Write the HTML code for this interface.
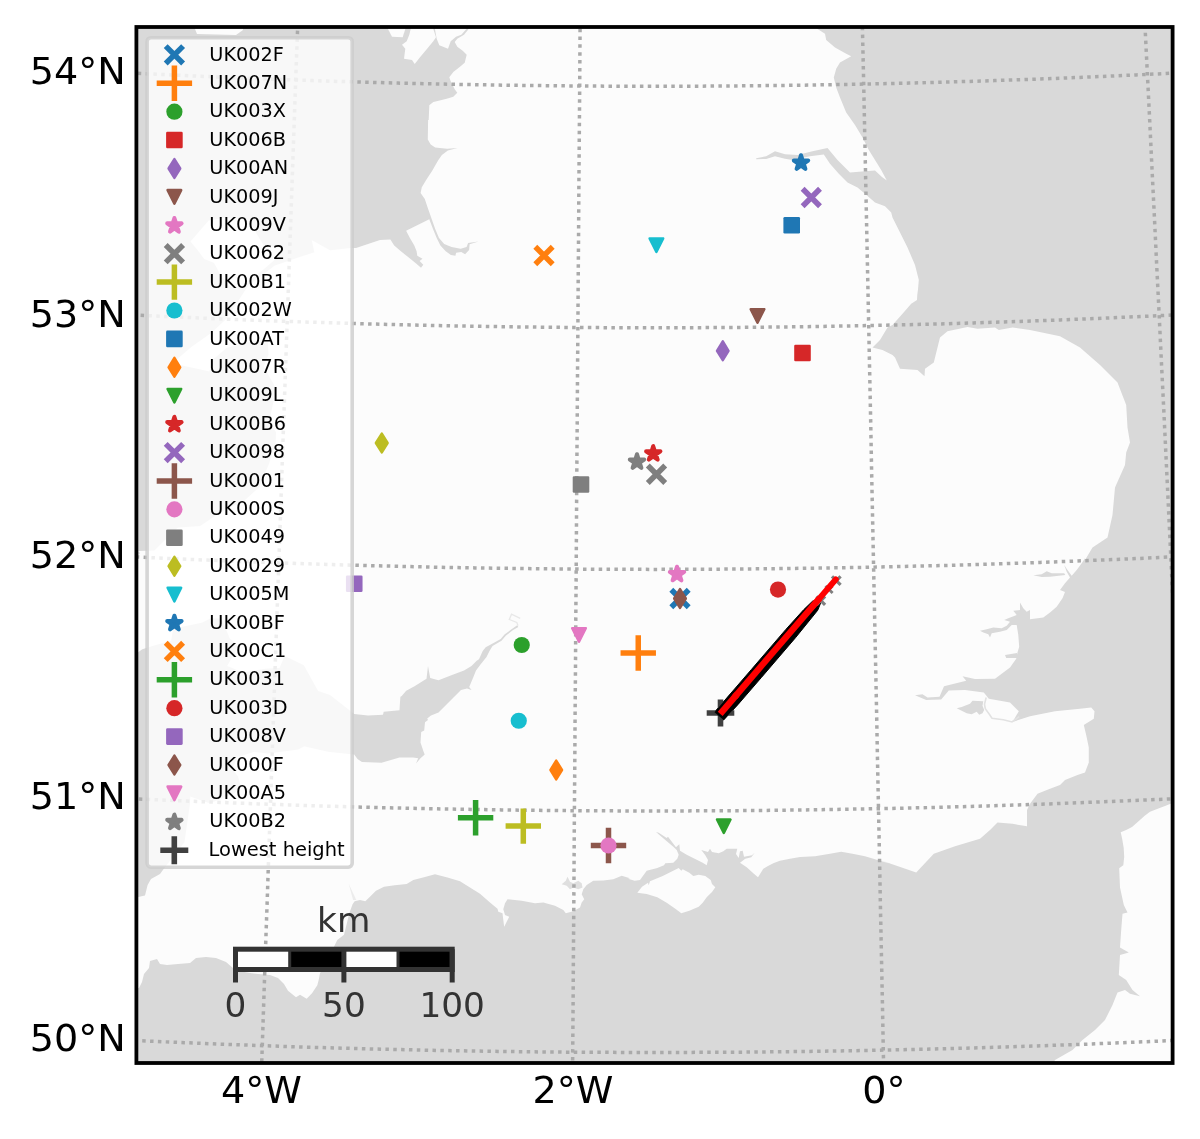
<!DOCTYPE html>
<html><head><meta charset="utf-8"><title>Map</title>
<style>html,body{margin:0;padding:0;background:#fff}svg text{white-space:pre}</style></head>
<body>
<svg width="1200" height="1139" viewBox="0 0 1200 1139" style="display:block">
<defs><clipPath id="ax"><rect x="136.4" y="27.0" width="1036.2" height="1036.0"/></clipPath></defs>
<rect x="0" y="0" width="1200" height="1139" fill="#ffffff"/>
<g clip-path="url(#ax)">
<rect x="136.4" y="27.0" width="1036.2" height="1036.0" fill="#d9d9d9"/>
<path d="M195.0,15.0 L195.0,29.0 L197.0,34.0 L236.0,35.0 L243.0,30.0 L243.0,15.0Z" fill="#fcfcfc"/>
<path d="M388.0,20.0 L388.0,29.1 L392.0,36.7 L402.7,37.3 L405.3,29.1 L405.3,20.0Z" fill="#fcfcfc"/>
<path d="M410.7,20.0 L410.7,29.1 L409.3,34.7 L406.7,41.3 L402.0,44.7 L405.3,48.7 L404.0,58.7 L412.0,60.0 L414.7,64.0 L420.0,57.3 L426.7,49.3 L433.3,41.3 L436.0,37.3 L433.3,29.1 L433.3,20.0Z" fill="#fcfcfc"/>
<path d="M434.9,20.0 L434.9,29.1 L436.7,38.7 L439.3,45.3 L448.0,48.7 L450.7,41.3 L456.0,36.7 L461.3,34.7 L466.4,29.1 L466.4,20.0Z" fill="#fcfcfc"/>
<path d="M468.3,20.0 L468.3,29.6 L464.0,34.7 L457.3,38.7 L454.7,42.0 L457.3,46.7 L462.7,50.7 L466.7,54.7 L464.7,62.7 L460.0,66.7 L453.3,72.0 L449.3,77.3 L450.7,81.3 L454.7,89.3 L457.3,92.7 L453.3,96.7 L446.7,98.7 L438.7,100.7 L433.3,102.0 L429.3,105.3 L428.7,120.0 L428.1,120.0 L427.8,139.4 L430.7,144.6 L435.2,147.6 L447.2,148.7 L457.6,147.9 L447.9,150.6 L441.9,155.1 L438.2,160.3 L432.2,170.7 L426.3,179.7 L421.8,187.2 L420.6,193.1 L424.8,199.1 L427.8,208.1 L431.5,218.5 L435.2,229.0 L439.0,237.9 L444.2,243.9 L451.6,246.9 L460.6,248.7 L466.6,246.9 L468.1,243.1 L478.5,241.6 L469.6,244.2 L469.1,249.9 L465.1,254.3 L461.3,252.1 L456.1,252.8 L455.4,255.8 L450.9,255.1 L445.7,251.3 L440.4,245.4 L436.7,237.9 L433.0,229.0 L429.3,219.3 L406.1,230.7 L409.9,237.9 L414.3,245.4 L416.6,251.3 L417.3,255.8 L422.5,258.8 L419.6,261.0 L423.3,264.8 L421.0,267.8 L415.8,263.3 L408.4,257.3 L400.9,251.3 L394.2,245.4 L390.4,239.4 L380.0,240.1 L353.8,248.8 L363.5,246.4 L330.1,250.3 L311.7,240.1 L314.2,252.2 L301.0,256.6 L274.7,265.4 L247.9,286.1 L238.6,300.3 L226.2,319.1 L211.1,333.0 L191.5,346.7 L170.3,365.1 L181.9,365.6 L209.4,371.6 L212.9,359.7 L226.5,348.1 L253.0,340.7 L267.6,340.0 L268.5,354.6 L263.7,366.5 L276.1,388.7 L269.0,422.3 L276.0,432.2 L275.5,444.3 L269.0,463.4 L259.2,487.2 L242.4,502.3 L227.4,507.8 L200.0,526.0 L177.7,527.4 L154.3,550.6 L137.9,551.0 L140.0,553.0 L136.0,558.0 L100.0,558.0 L100.0,646.0 L138.0,646.0 L136.1,653.7 L142.3,649.2 L156.0,645.0 L171.2,640.8 L173.2,628.8 L201.9,622.8 L211.0,618.3 L221.5,618.7 L229.7,638.4 L238.4,646.0 L227.1,666.1 L243.4,672.8 L252.5,670.7 L266.1,668.8 L279.6,668.0 L284.6,656.1 L303.8,665.2 L318.0,691.0 L329.9,695.0 L354.2,714.0 L368.0,715.5 L383.0,714.7 L383.7,711.7 L399.5,710.2 L399.9,703.5 L400.4,696.7 L401.7,696.0 L406.2,690.7 L414.5,686.2 L426.5,678.7 L428.0,666.0 L430.2,678.0 L438.5,680.2 L452.0,675.0 L464.0,670.5 L471.5,666.0 L476.7,660.7 L479.0,659.2 L482.7,651.0 L485.7,647.2 L494.0,642.7 L500.7,639.0 L504.5,634.5 L510.5,630.0 L517.2,625.2 L518.3,627.0 L512.7,630.3 L506.0,635.5 L501.5,640.8 L492.5,646.0 L489.5,651.0 L486.5,657.0 L480.5,664.5 L476.0,670.5 L473.0,678.0 L469.2,687.0 L471.5,690.0 L467.0,688.5 L461.0,690.0 L455.0,696.0 L447.5,703.5 L438.5,712.5 L431.0,715.5 L427.2,718.5 L428.0,720.0 L425.0,722.2 L424.2,730.5 L421.2,732.0 L420.5,742.5 L423.5,751.5 L424.7,754.5 L420.5,758.2 L416.0,763.5 L418.2,758.2 L413.0,757.5 L399.5,757.5 L381.5,762.7 L362.0,762.0 L357.5,759.0 L354.2,754.5 L328.3,751.8 L304.2,746.2 L298.1,749.6 L267.7,753.4 L254.1,751.8 L237.2,757.2 L232.2,769.1 L238.0,776.5 L240.7,786.3 L234.4,793.3 L209.7,803.2 L190.2,796.4 L189.9,803.6 L184.5,842.1 L164.0,868.4 L160.0,874.0 L151.0,879.0 L147.6,885.0 L145.0,895.6 L136.0,897.6 L100.0,898.0 L100.0,990.0 L139.0,988.0 L142.0,982.0 L144.0,974.0 L149.0,968.0 L150.0,961.0 L157.0,959.0 L160.0,964.0 L167.0,965.0 L178.0,964.0 L190.0,963.0 L196.0,958.0 L206.0,957.0 L216.0,958.0 L226.0,962.0 L233.0,968.0 L242.0,971.6 L250.0,973.0 L258.0,974.0 L270.0,975.0 L278.0,978.0 L280.0,980.0 L284.0,984.0 L288.0,990.7 L296.0,997.3 L300.0,994.7 L306.7,998.7 L312.0,993.3 L317.3,985.3 L318.7,980.0 L320.0,973.3 L327.0,960.0 L334.0,946.7 L337.3,940.0 L344.0,934.7 L346.7,924.0 L349.3,913.3 L352.7,904.0 L354.7,901.3 L360.0,900.0 L365.3,901.3 L370.7,896.0 L376.0,890.7 L384.0,886.7 L394.7,885.3 L406.7,884.0 L413.3,880.0 L424.0,877.3 L435.0,874.2 L447.5,877.5 L460.0,881.2 L470.0,887.5 L480.0,893.8 L490.0,902.5 L497.5,908.8 L498.3,911.7 L502.5,913.3 L503.3,920.0 L504.2,926.7 L506.7,921.7 L509.2,916.7 L505.0,915.0 L503.3,909.2 L505.0,903.3 L507.5,899.2 L521.7,900.8 L535.0,903.3 L543.3,902.5 L555.0,905.8 L563.3,910.0 L565.8,913.3 L573.3,911.3 L580.0,907.5 L581.7,902.5 L584.2,899.2 L581.7,894.2 L583.3,889.2 L586.7,885.0 L593.3,880.8 L603.3,880.5 L613.3,879.2 L621.7,875.8 L630.0,878.3 L628.0,878.7 L634.7,880.7 L640.0,880.0 L646.7,870.7 L657.3,868.0 L664.0,865.3 L665.3,863.3 L673.3,862.7 L677.3,858.7 L678.7,854.7 L676.7,850.0 L673.3,846.7 L665.3,840.0 L656.0,832.0 L658.7,832.7 L666.7,838.0 L668.0,836.7 L672.0,842.0 L676.0,847.3 L679.3,844.3 L680.0,850.7 L686.7,854.7 L694.7,858.7 L702.7,862.7 L706.7,865.3 L708.0,860.0 L705.3,855.3 L701.3,850.0 L708.0,852.0 L710.0,848.7 L712.0,852.0 L718.7,853.3 L723.3,851.3 L726.7,848.7 L737.3,848.7 L736.0,854.0 L738.7,858.0 L740.0,851.3 L742.7,850.7 L744.0,856.7 L752.0,855.3 L754.7,852.7 L751.3,857.3 L745.3,858.7 L740.0,862.7 L746.7,867.3 L753.3,873.3 L758.0,877.3 L761.3,872.0 L763.3,868.7 L768.0,866.0 L773.3,863.3 L779.9,860.7 L790.0,858.8 L800.0,857.0 L815.0,856.2 L830.0,853.8 L841.2,851.8 L852.5,853.8 L865.0,856.2 L877.5,860.0 L890.0,863.8 L899.8,867.5 L880.0,860.0 L916.2,872.5 L933.8,853.8 L955.0,846.2 L980.0,838.8 L990.0,830.0 L997.5,822.5 L1012.5,823.8 L1027.0,826.2 L1027.0,810.0 L1030.0,803.8 L1037.5,793.8 L1050.0,788.8 L1060.0,785.0 L1065.0,780.0 L1077.5,775.0 L1085.0,772.5 L1088.8,762.5 L1088.8,747.5 L1086.2,735.0 L1083.8,725.0 L1093.8,718.8 L1094.5,711.2 L1091.2,707.5 L1080.0,708.8 L1055.0,711.2 L1030.0,716.2 L1012.5,722.0 L1018.8,711.2 L1010.0,702.5 L988.8,698.8 L983.8,692.5 L965.0,690.0 L948.8,690.5 L941.2,699.5 L926.2,700.0 L915.0,695.2 L922.5,694.2 L927.5,697.5 L939.5,696.8 L944.0,686.2 L966.2,680.8 L962.5,676.2 L975.0,679.0 L995.0,678.8 L1010.0,667.5 L1016.2,658.8 L1017.5,652.5 L1019.2,646.7 L1018.3,635.0 L1016.7,625.0 L1011.7,625.0 L1006.7,630.0 L1000.0,631.7 L991.7,633.3 L990.0,637.5 L988.3,634.2 L983.3,632.5 L980.0,630.8 L986.7,629.2 L993.3,627.5 L1001.7,628.3 L1006.7,625.8 L1010.0,621.7 L1004.2,620.0 L1008.3,618.3 L1016.7,615.0 L1013.3,610.8 L1020.0,610.0 L1020.0,602.5 L1023.3,608.3 L1026.7,611.7 L1030.0,610.0 L1030.0,619.2 L1043.3,617.5 L1050.0,612.5 L1056.7,606.7 L1062.5,598.3 L1065.0,592.0 L1060.0,590.0 L1065.0,583.3 L1070.0,577.5 L1066.7,571.7 L1064.2,565.0 L1067.5,570.0 L1071.7,575.8 L1076.7,570.0 L1081.7,563.3 L1085.0,558.3 L1085.0,560.0 L1092.5,547.5 L1107.5,537.5 L1112.5,515.0 L1115.0,487.5 L1125.0,465.0 L1126.2,452.5 L1130.0,442.5 L1127.5,427.5 L1126.2,405.0 L1117.5,382.5 L1100.0,365.0 L1080.0,347.5 L1060.0,336.2 L1030.0,330.0 L1012.5,327.5 L998.8,330.0 L995.0,327.5 L977.5,328.8 L967.5,327.0 L947.5,331.2 L940.0,337.5 L933.8,362.5 L925.0,368.8 L924.5,376.2 L917.5,370.0 L900.0,368.8 L895.0,357.5 L892.5,355.0 L882.5,350.0 L872.5,347.5 L880.0,340.0 L887.5,327.5 L892.5,325.0 L902.5,313.8 L911.2,303.8 L917.0,300.0 L917.5,290.0 L917.5,295.0 L918.8,280.0 L915.0,265.0 L907.5,247.5 L900.0,232.5 L892.5,217.5 L891.2,212.5 L885.0,206.2 L875.0,202.5 L865.0,193.8 L857.5,187.5 L847.5,182.5 L838.8,173.8 L830.0,163.8 L823.8,154.5 L810.0,156.2 L792.5,160.0 L785.0,158.8 L775.0,156.2 L766.2,159.0 L756.2,159.2 L756.2,158.2 L766.2,156.2 L775.0,151.2 L785.0,154.2 L797.5,155.0 L812.5,151.2 L827.5,148.0 L837.5,160.0 L850.0,172.5 L865.0,171.2 L875.0,170.5 L882.0,177.0 L886.8,180.5 L881.2,170.0 L875.0,160.0 L868.8,150.0 L862.5,137.5 L855.0,125.0 L846.2,112.5 L840.0,97.5 L836.2,87.5 L833.8,77.5 L836.2,68.8 L840.0,62.5 L851.2,56.2 L846.2,53.8 L835.0,47.5 L826.2,40.0 L825.0,33.8 L817.5,29.0 L817.5,20.0 L468.0,10.0Z" fill="#fcfcfc"/>
<path d="M190.4,241.4 L208.6,220.5 L226.1,217.6 L249.0,219.7 L257.1,234.5 L263.9,245.6 L284.0,247.6 L276.4,258.2 L266.0,267.5 L248.0,281.3 L240.5,288.3 L229.0,286.6 L220.8,275.4 L214.0,263.0 L204.1,259.0 L198.6,251.5Z" fill="#fcfcfc"/>
<path d="M637.3,892.7 L642.0,886.7 L648.0,882.7 L648.7,885.3 L650.0,881.3 L662.7,876.0 L670.7,872.0 L678.7,868.0 L681.3,870.7 L682.7,869.3 L689.3,872.7 L693.3,876.0 L698.7,874.7 L705.3,876.0 L710.7,880.0 L712.0,884.0 L715.3,887.3 L712.0,892.0 L706.7,897.3 L702.7,902.7 L698.7,906.7 L689.3,910.7 L681.3,913.3 L676.0,909.3 L666.7,902.7 L657.3,897.3 L646.7,894.0Z" fill="#fcfcfc"/>
<path d="M1210.0,797.0 L1172.5,803.0 L1165.0,806.0 L1159.0,808.2 L1150.0,811.7 L1144.7,815.7 L1138.0,821.7 L1132.0,827.0 L1126.7,829.7 L1120.7,832.2 L1122.2,839.0 L1123.7,848.0 L1124.2,857.0 L1123.3,865.2 L1119.2,868.2 L1120.0,887.5 L1123.8,905.0 L1127.5,912.5 L1122.5,913.8 L1121.2,930.0 L1120.0,947.5 L1128.8,952.5 L1120.0,955.0 L1118.8,975.0 L1126.2,980.0 L1132.5,990.0 L1140.0,996.2 L1130.0,993.8 L1125.0,990.0 L1117.5,992.5 L1112.5,1005.0 L1105.0,1020.0 L1095.0,1030.0 L1082.5,1040.0 L1072.5,1050.0 L1055.0,1060.0 L1050.0,1070.0 L1205.0,1070.0Z" fill="#fcfcfc"/>
<path d="M956.7,708.3 L961.7,707.0 L970.0,703.7 L972.5,700.8 L983.3,701.3 L982.5,705.8 L984.2,710.0 L982.5,713.3 L979.2,714.7 L976.7,711.7 L971.7,714.2 L966.7,713.3 L961.7,710.8Z" fill="#d9d9d9"/>
<path d="M1033.3,575.3 L1041.7,574.2 L1046.7,571.3 L1051.7,573.3 L1064.2,573.3 L1065.3,575.0 L1050.0,576.7 L1041.7,577.0Z" fill="#d9d9d9"/>
<path d="M1005.0,655.0 L1017.0,653.0 L1017.0,658.0 L1006.2,658.0Z" fill="#d9d9d9"/>
<path d="M561.7,884.2 L565.8,880.8 L567.5,876.7 L570.0,881.7 L573.3,883.3 L578.3,880.8 L581.7,883.3 L582.5,887.5 L578.3,889.2 L573.3,887.5 L570.0,889.2 L566.7,885.8Z" fill="#dfdfdf"/>
<path d="M348.7,883.7 L353.1,900.0 L356.3,900.0Z" fill="#ececec"/>
<path d="M986.2,697.5 L984.5,704.2 L985.3,708.7 L989.5,714.5 L992.0,718.3 L1003.3,719.7 L1012.0,722.0 L1019.2,716.7" fill="none" stroke="#e2e2e2" stroke-width="1.6"/>
<path d="M518.0,625.8 L516.8,622.5 L509.3,619.5 L511.5,614.2 L520.2,618.3" fill="none" stroke="#e8e8e8" stroke-width="1.3"/>
<path d="M63.8,1037.0 L94.8,1038.6 L125.8,1040.1 L156.8,1041.5 L187.8,1042.8 L218.8,1044.1 L249.9,1045.2 L280.9,1046.3 L311.9,1047.3 L343.0,1048.2 L374.0,1049.0 L405.1,1049.7 L436.1,1050.4 L467.2,1050.9 L498.2,1051.4 L529.3,1051.8 L560.3,1052.1 L591.4,1052.3 L622.4,1052.4 L653.5,1052.5 L684.6,1052.4 L715.6,1052.3 L746.7,1052.1 L777.7,1051.8 L808.8,1051.4 L839.8,1050.9 L870.9,1050.4 L901.9,1049.7 L933.0,1049.0 L964.0,1048.2 L995.1,1047.3 L1026.1,1046.3 L1057.1,1045.2 L1088.2,1044.1 L1119.2,1042.8 L1150.2,1041.5 L1181.2,1040.1 L1212.2,1038.6 L1243.2,1037.0" fill="none" stroke="#aaaaaa" stroke-width="3.5" stroke-dasharray="3.5 4.35"/>
<path d="M76.1,795.8 L106.5,797.4 L136.8,798.9 L167.2,800.2 L197.6,801.5 L227.9,802.7 L258.3,803.9 L288.7,804.9 L319.1,805.9 L349.5,806.8 L379.9,807.6 L410.3,808.3 L440.7,808.9 L471.1,809.4 L501.5,809.9 L531.9,810.3 L562.3,810.6 L592.7,810.8 L623.1,810.9 L653.5,811.0 L683.9,810.9 L714.3,810.8 L744.7,810.6 L775.1,810.3 L805.5,809.9 L835.9,809.4 L866.3,808.9 L896.7,808.3 L927.1,807.6 L957.5,806.8 L987.9,805.9 L1018.3,804.9 L1048.7,803.9 L1079.1,802.7 L1109.4,801.5 L1139.8,800.2 L1170.2,798.9 L1200.5,797.4 L1230.9,795.8" fill="none" stroke="#aaaaaa" stroke-width="3.5" stroke-dasharray="3.5 4.35"/>
<path d="M88.7,554.6 L118.4,556.1 L148.1,557.5 L177.8,558.9 L207.5,560.1 L237.2,561.3 L266.9,562.4 L296.6,563.5 L326.3,564.4 L356.1,565.3 L385.8,566.0 L415.5,566.7 L445.3,567.4 L475.0,567.9 L504.8,568.3 L534.5,568.7 L564.3,569.0 L594.0,569.2 L623.8,569.3 L653.5,569.4 L683.2,569.3 L713.0,569.2 L742.7,569.0 L772.5,568.7 L802.2,568.3 L832.0,567.9 L861.7,567.4 L891.5,566.7 L921.2,566.0 L950.9,565.3 L980.7,564.4 L1010.4,563.5 L1040.1,562.4 L1069.8,561.3 L1099.5,560.1 L1129.2,558.9 L1158.9,557.5 L1188.6,556.1 L1218.3,554.6" fill="none" stroke="#aaaaaa" stroke-width="3.5" stroke-dasharray="3.5 4.35"/>
<path d="M101.4,313.3 L130.4,314.8 L159.4,316.2 L188.5,317.5 L217.5,318.8 L246.5,319.9 L275.6,321.0 L304.6,322.0 L333.7,322.9 L362.8,323.8 L391.8,324.5 L420.9,325.2 L450.0,325.8 L479.0,326.3 L508.1,326.8 L537.2,327.1 L566.3,327.4 L595.3,327.6 L624.4,327.7 L653.5,327.8 L682.6,327.7 L711.7,327.6 L740.7,327.4 L769.8,327.1 L798.9,326.8 L828.0,326.3 L857.0,325.8 L886.1,325.2 L915.2,324.5 L944.2,323.8 L973.3,322.9 L1002.4,322.0 L1031.4,321.0 L1060.5,319.9 L1089.5,318.8 L1118.5,317.5 L1147.6,316.2 L1176.6,314.8 L1205.6,313.3" fill="none" stroke="#aaaaaa" stroke-width="3.5" stroke-dasharray="3.5 4.35"/>
<path d="M114.2,72.1 L142.6,73.6 L170.9,74.9 L199.3,76.2 L227.7,77.4 L256.0,78.6 L284.4,79.6 L312.8,80.6 L341.1,81.5 L369.5,82.3 L397.9,83.1 L426.3,83.7 L454.7,84.3 L483.1,84.8 L511.5,85.3 L539.9,85.6 L568.3,85.9 L596.7,86.1 L625.1,86.2 L653.5,86.2 L681.9,86.2 L710.3,86.1 L738.7,85.9 L767.1,85.6 L795.5,85.3 L823.9,84.8 L852.3,84.3 L880.7,83.7 L909.1,83.1 L937.5,82.3 L965.9,81.5 L994.2,80.6 L1022.6,79.6 L1051.0,78.6 L1079.3,77.4 L1107.7,76.2 L1136.1,74.9 L1164.4,73.6 L1192.8,72.1" fill="none" stroke="#aaaaaa" stroke-width="3.5" stroke-dasharray="3.5 4.35"/>
<path d="M299.2,-16.5 L297.5,31.8 L295.7,80.0 L294.0,128.3 L292.3,176.6 L290.6,224.8 L288.9,273.1 L287.2,321.4 L285.5,369.7 L283.8,418.0 L282.1,466.3 L280.5,514.6 L278.8,562.9 L277.1,611.1 L275.4,659.4 L273.8,707.7 L272.1,756.0 L270.5,804.3 L268.8,852.6 L267.2,900.9 L265.5,949.1 L263.9,997.4 L262.3,1045.7 L260.6,1093.9" fill="none" stroke="#aaaaaa" stroke-width="3.5" stroke-dasharray="3.5 4.35"/>
<path d="M580.4,-10.6 L580.0,37.7 L579.7,86.0 L579.3,134.3 L578.9,182.6 L578.6,230.9 L578.2,279.2 L577.9,327.5 L577.5,375.8 L577.2,424.1 L576.8,472.4 L576.5,520.8 L576.2,569.1 L575.8,617.4 L575.5,665.7 L575.1,714.0 L574.8,762.4 L574.4,810.7 L574.1,859.0 L573.8,907.3 L573.4,955.6 L573.1,1003.9 L572.7,1052.2 L572.4,1100.5" fill="none" stroke="#aaaaaa" stroke-width="3.5" stroke-dasharray="3.5 4.35"/>
<path d="M861.6,-12.5 L862.6,35.8 L863.7,84.1 L864.7,132.4 L865.7,180.7 L866.7,229.0 L867.7,277.3 L868.7,325.6 L869.7,373.9 L870.7,422.2 L871.6,470.5 L872.6,518.8 L873.6,567.1 L874.6,615.4 L875.6,663.7 L876.6,712.0 L877.5,760.4 L878.5,808.7 L879.5,857.0 L880.4,905.3 L881.4,953.5 L882.4,1001.8 L883.3,1050.1 L884.3,1098.4" fill="none" stroke="#aaaaaa" stroke-width="3.5" stroke-dasharray="3.5 4.35"/>
<path d="M1142.6,-22.1 L1145.0,26.2 L1147.4,74.4 L1149.8,122.6 L1152.1,170.9 L1154.5,219.1 L1156.8,267.4 L1159.2,315.6 L1161.5,363.9 L1163.9,412.2 L1166.2,460.4 L1168.5,508.7 L1170.8,557.0 L1173.1,605.2 L1175.4,653.5 L1177.7,701.8 L1180.0,750.0 L1182.3,798.3 L1184.6,846.5 L1186.8,894.8 L1189.1,943.0 L1191.4,991.3 L1193.6,1039.5 L1195.9,1087.7" fill="none" stroke="#aaaaaa" stroke-width="3.5" stroke-dasharray="3.5 4.35"/>
</g>
<g clip-path="url(#ax)">
<path d="M671.30,589.80 L688.70,607.20 M671.30,607.20 L688.70,589.80" stroke="#1f77b4" stroke-width="5.5" fill="none"/>
<path d="M620.55,653.00 L655.95,653.00 M638.25,635.30 L638.25,670.70" stroke="#ff7f0e" stroke-width="5.5" fill="none"/>
<circle cx="521.75" cy="645.00" r="8.1" fill="#2ca02c"/>
<rect x="794.20" y="344.70" width="16.6" height="16.6" rx="1.3" fill="#d62728"/>
<path d="M722.8,341.4 L728.5,350.8 L722.8,360.1 L717.0,350.8Z" fill="#9467bd" stroke="#9467bd" stroke-width="2.50" stroke-linejoin="round"/>
<path d="M757.5,322.8 L764.3,309.2 L750.7,309.2Z" fill="#8c564b" stroke="#8c564b" stroke-width="2.50" stroke-linejoin="round"/>
<path d="M677.0,566.7 L675.3,571.9 L669.8,571.9 L674.3,575.1 L672.6,580.3 L677.0,577.1 L681.4,580.3 L679.7,575.1 L684.2,571.9 L678.7,571.9Z" fill="#e377c2" stroke="#e377c2" stroke-width="4.00" stroke-linejoin="round"/>
<path d="M647.80,465.55 L665.20,482.95 M647.80,482.95 L665.20,465.55" stroke="#7f7f7f" stroke-width="5.5" fill="none"/>
<path d="M505.60,826.10 L541.00,826.10 M523.30,808.40 L523.30,843.80" stroke="#bcbd22" stroke-width="5.5" fill="none"/>
<circle cx="518.75" cy="720.75" r="8.1" fill="#17becf"/>
<rect x="783.40" y="217.00" width="16.6" height="16.6" rx="1.3" fill="#1f77b4"/>
<path d="M556.2,760.6 L562.0,770.0 L556.2,779.4 L550.5,770.0Z" fill="#ff7f0e" stroke="#ff7f0e" stroke-width="2.50" stroke-linejoin="round"/>
<path d="M723.8,833.0 L730.5,819.5 L717.0,819.5Z" fill="#2ca02c" stroke="#2ca02c" stroke-width="2.50" stroke-linejoin="round"/>
<path d="M653.2,446.1 L651.6,451.3 L646.1,451.3 L650.5,454.5 L648.8,459.7 L653.2,456.5 L657.7,459.7 L656.0,454.5 L660.4,451.3 L654.9,451.3Z" fill="#d62728" stroke="#d62728" stroke-width="4.00" stroke-linejoin="round"/>
<path d="M802.60,188.80 L820.00,206.20 M802.60,206.20 L820.00,188.80" stroke="#9467bd" stroke-width="5.5" fill="none"/>
<path d="M590.80,845.50 L626.20,845.50 M608.50,827.80 L608.50,863.20" stroke="#8c564b" stroke-width="5.5" fill="none"/>
<circle cx="608.50" cy="845.50" r="8.1" fill="#e377c2"/>
<rect x="572.70" y="476.20" width="16.6" height="16.6" rx="1.3" fill="#7f7f7f"/>
<path d="M381.8,433.6 L387.6,443.0 L381.8,452.4 L375.9,443.0Z" fill="#bcbd22" stroke="#bcbd22" stroke-width="2.50" stroke-linejoin="round"/>
<path d="M656.4,252.0 L663.2,238.4 L649.6,238.4Z" fill="#17becf" stroke="#17becf" stroke-width="2.50" stroke-linejoin="round"/>
<path d="M801.0,155.2 L799.3,160.5 L793.8,160.5 L798.3,163.7 L796.6,168.9 L801.0,165.7 L805.4,168.9 L803.7,163.7 L808.2,160.5 L802.7,160.5Z" fill="#1f77b4" stroke="#1f77b4" stroke-width="4.00" stroke-linejoin="round"/>
<path d="M535.30,246.80 L552.70,264.20 M535.30,264.20 L552.70,246.80" stroke="#ff7f0e" stroke-width="5.5" fill="none"/>
<path d="M457.90,817.70 L493.30,817.70 M475.60,800.00 L475.60,835.40" stroke="#2ca02c" stroke-width="5.5" fill="none"/>
<circle cx="778.00" cy="589.60" r="8.1" fill="#d62728"/>
<rect x="345.95" y="575.45" width="16.6" height="16.6" rx="1.3" fill="#9467bd"/>
<path d="M680.0,589.1 L685.8,598.5 L680.0,607.9 L674.2,598.5Z" fill="#8c564b" stroke="#8c564b" stroke-width="2.50" stroke-linejoin="round"/>
<path d="M579.0,641.8 L585.8,628.2 L572.2,628.2Z" fill="#e377c2" stroke="#e377c2" stroke-width="2.50" stroke-linejoin="round"/>
<path d="M637.0,454.2 L635.3,459.5 L629.8,459.5 L634.3,462.7 L632.6,467.9 L637.0,464.7 L641.4,467.9 L639.7,462.7 L644.2,459.5 L638.7,459.5Z" fill="#7f7f7f" stroke="#7f7f7f" stroke-width="4.00" stroke-linejoin="round"/>
<path d="M714.5,712.2 L751.4,669.5 L785.9,629.4 L803.6,609.8 L812.5,601.2 L818.6,599.4 L821.2,601.7 L817.7,610.3 L795.5,637.7 L761.1,677.8 L738.0,704.5 L723.6,720.0Z" fill="#000" stroke="#000" stroke-width="1" stroke-linejoin="round"/>
<path d="M832.00,576.30 L840.60,584.90 M832.00,584.90 L840.60,576.30" stroke="#7f7f7f" stroke-width="3.2" fill="none"/>
<path d="M816.50,596.30 L825.10,604.90 M816.50,604.90 L825.10,596.30" stroke="#7f7f7f" stroke-width="3.2" fill="none"/>
<path d="M825.40,585.90 L832.60,593.10 M825.40,593.10 L832.60,585.90" stroke="#7f7f7f" stroke-width="2.8" fill="none"/>
<path d="M720.2,713.8 L819.7,598.1" stroke="#ff0000" stroke-width="6.4" stroke-linecap="butt" fill="none"/>
<path d="M812.8,606.1 L835.8,579.4" stroke="#ff0000" stroke-width="6.0" stroke-linecap="round" fill="none"/>
<path d="M706.70,713.00 L734.30,713.00 M720.50,699.40 L720.50,726.60" stroke="#404040" stroke-width="5.6" fill="none"/>
<path d="M714.5,712.2 L730.6,693.4 L740.3,701.8 L723.6,720.0Z" fill="#000"/>
<path d="M720.2,713.8 L737.0,694.3" stroke="#ff0000" stroke-width="6.4" stroke-linecap="butt" fill="none"/>
</g>
<rect x="235.5" y="949.2" width="216.7" height="20.3" fill="#ffffff"/>
<rect x="289.7" y="949.2" width="54.2" height="20.3" fill="#000"/>
<rect x="398.0" y="949.2" width="54.2" height="20.3" fill="#000"/>
<rect x="235.5" y="949.2" width="216.7" height="20.3" fill="none" stroke="#333333" stroke-width="5"/>
<path d="M235.5,949.2 L235.5,982.5" stroke="#333333" stroke-width="5" fill="none"/>
<path d="M343.9,949.2 L343.9,982.5" stroke="#333333" stroke-width="5" fill="none"/>
<path d="M452.2,949.2 L452.2,982.5" stroke="#333333" stroke-width="5" fill="none"/>
<path d="M289.7,949.2 L289.7,969.5" stroke="#333333" stroke-width="3" fill="none"/>
<path d="M398.0,949.2 L398.0,969.5" stroke="#333333" stroke-width="3" fill="none"/>
<text x="235.5" y="1017.0" font-size="34.30" text-anchor="middle" fill="#333333" font-family="DejaVu Sans, Liberation Sans, sans-serif">0</text>
<text x="343.9" y="1017.0" font-size="34.30" text-anchor="middle" fill="#333333" font-family="DejaVu Sans, Liberation Sans, sans-serif">50</text>
<text x="452.2" y="1017.0" font-size="34.30" text-anchor="middle" fill="#333333" font-family="DejaVu Sans, Liberation Sans, sans-serif">100</text>
<text x="343.7" y="932.3" font-size="34.30" text-anchor="middle" fill="#333333" font-family="DejaVu Sans, Liberation Sans, sans-serif">km</text>
<rect x="147.1" y="37.7" width="205.1" height="829.5" rx="3.9" fill="#ffffff" fill-opacity="0.8" stroke="#cccccc" stroke-opacity="0.8" stroke-width="3.6"/>
<path d="M165.70,46.15 L183.10,63.55 M165.70,63.55 L183.10,46.15" stroke="#1f77b4" stroke-width="5.5" fill="none"/>
<text x="209.3" y="60.5" font-size="19.30" text-anchor="start" fill="#000" font-family="DejaVu Sans, Liberation Sans, sans-serif">UK002F</text>
<path d="M156.70,83.26 L192.10,83.26 M174.40,65.56 L174.40,100.96" stroke="#ff7f0e" stroke-width="5.5" fill="none"/>
<text x="209.3" y="88.9" font-size="19.30" text-anchor="start" fill="#000" font-family="DejaVu Sans, Liberation Sans, sans-serif">UK007N</text>
<circle cx="174.40" cy="111.66" r="8.1" fill="#2ca02c"/>
<text x="209.3" y="117.3" font-size="19.30" text-anchor="start" fill="#000" font-family="DejaVu Sans, Liberation Sans, sans-serif">UK003X</text>
<rect x="166.10" y="131.77" width="16.6" height="16.6" rx="1.3" fill="#d62728"/>
<text x="209.3" y="145.7" font-size="19.30" text-anchor="start" fill="#000" font-family="DejaVu Sans, Liberation Sans, sans-serif">UK006B</text>
<path d="M174.4,159.1 L180.2,168.5 L174.4,177.9 L168.6,168.5Z" fill="#9467bd" stroke="#9467bd" stroke-width="2.50" stroke-linejoin="round"/>
<text x="209.3" y="174.1" font-size="19.30" text-anchor="start" fill="#000" font-family="DejaVu Sans, Liberation Sans, sans-serif">UK00AN</text>
<path d="M174.4,203.7 L181.2,190.1 L167.6,190.1Z" fill="#8c564b" stroke="#8c564b" stroke-width="2.50" stroke-linejoin="round"/>
<text x="209.3" y="202.5" font-size="19.30" text-anchor="start" fill="#000" font-family="DejaVu Sans, Liberation Sans, sans-serif">UK009J</text>
<path d="M174.4,218.0 L172.7,223.3 L167.2,223.3 L171.7,226.5 L170.0,231.7 L174.4,228.5 L178.8,231.7 L177.1,226.5 L181.6,223.3 L176.1,223.3Z" fill="#e377c2" stroke="#e377c2" stroke-width="4.00" stroke-linejoin="round"/>
<text x="209.3" y="230.9" font-size="19.30" text-anchor="start" fill="#000" font-family="DejaVu Sans, Liberation Sans, sans-serif">UK009V</text>
<path d="M165.70,245.00 L183.10,262.40 M165.70,262.40 L183.10,245.00" stroke="#7f7f7f" stroke-width="5.5" fill="none"/>
<text x="209.3" y="259.3" font-size="19.30" text-anchor="start" fill="#000" font-family="DejaVu Sans, Liberation Sans, sans-serif">UK0062</text>
<path d="M156.70,282.11 L192.10,282.11 M174.40,264.41 L174.40,299.81" stroke="#bcbd22" stroke-width="5.5" fill="none"/>
<text x="209.3" y="287.7" font-size="19.30" text-anchor="start" fill="#000" font-family="DejaVu Sans, Liberation Sans, sans-serif">UK00B1</text>
<circle cx="174.40" cy="310.51" r="8.1" fill="#17becf"/>
<text x="209.3" y="316.1" font-size="19.30" text-anchor="start" fill="#000" font-family="DejaVu Sans, Liberation Sans, sans-serif">UK002W</text>
<rect x="166.10" y="330.62" width="16.6" height="16.6" rx="1.3" fill="#1f77b4"/>
<text x="209.3" y="344.5" font-size="19.30" text-anchor="start" fill="#000" font-family="DejaVu Sans, Liberation Sans, sans-serif">UK00AT</text>
<path d="M174.4,357.9 L180.2,367.3 L174.4,376.7 L168.6,367.3Z" fill="#ff7f0e" stroke="#ff7f0e" stroke-width="2.50" stroke-linejoin="round"/>
<text x="209.3" y="372.9" font-size="19.30" text-anchor="start" fill="#000" font-family="DejaVu Sans, Liberation Sans, sans-serif">UK007R</text>
<path d="M174.4,402.5 L181.2,388.9 L167.6,388.9Z" fill="#2ca02c" stroke="#2ca02c" stroke-width="2.50" stroke-linejoin="round"/>
<text x="209.3" y="401.3" font-size="19.30" text-anchor="start" fill="#000" font-family="DejaVu Sans, Liberation Sans, sans-serif">UK009L</text>
<path d="M174.4,416.9 L172.7,422.1 L167.2,422.1 L171.7,425.3 L170.0,430.5 L174.4,427.3 L178.8,430.5 L177.1,425.3 L181.6,422.1 L176.1,422.1Z" fill="#d62728" stroke="#d62728" stroke-width="4.00" stroke-linejoin="round"/>
<text x="209.3" y="429.7" font-size="19.30" text-anchor="start" fill="#000" font-family="DejaVu Sans, Liberation Sans, sans-serif">UK00B6</text>
<path d="M165.70,443.85 L183.10,461.25 M165.70,461.25 L183.10,443.85" stroke="#9467bd" stroke-width="5.5" fill="none"/>
<text x="209.3" y="458.1" font-size="19.30" text-anchor="start" fill="#000" font-family="DejaVu Sans, Liberation Sans, sans-serif">UK0098</text>
<path d="M156.70,480.96 L192.10,480.96 M174.40,463.26 L174.40,498.66" stroke="#8c564b" stroke-width="5.5" fill="none"/>
<text x="209.3" y="486.6" font-size="19.30" text-anchor="start" fill="#000" font-family="DejaVu Sans, Liberation Sans, sans-serif">UK0001</text>
<circle cx="174.40" cy="509.36" r="8.1" fill="#e377c2"/>
<text x="209.3" y="515.0" font-size="19.30" text-anchor="start" fill="#000" font-family="DejaVu Sans, Liberation Sans, sans-serif">UK000S</text>
<rect x="166.10" y="529.47" width="16.6" height="16.6" rx="1.3" fill="#7f7f7f"/>
<text x="209.3" y="543.4" font-size="19.30" text-anchor="start" fill="#000" font-family="DejaVu Sans, Liberation Sans, sans-serif">UK0049</text>
<path d="M174.4,556.8 L180.2,566.2 L174.4,575.6 L168.6,566.2Z" fill="#bcbd22" stroke="#bcbd22" stroke-width="2.50" stroke-linejoin="round"/>
<text x="209.3" y="571.8" font-size="19.30" text-anchor="start" fill="#000" font-family="DejaVu Sans, Liberation Sans, sans-serif">UK0029</text>
<path d="M174.4,601.4 L181.2,587.8 L167.6,587.8Z" fill="#17becf" stroke="#17becf" stroke-width="2.50" stroke-linejoin="round"/>
<text x="209.3" y="600.2" font-size="19.30" text-anchor="start" fill="#000" font-family="DejaVu Sans, Liberation Sans, sans-serif">UK005M</text>
<path d="M174.4,615.7 L172.7,621.0 L167.2,621.0 L171.7,624.2 L170.0,629.4 L174.4,626.2 L178.8,629.4 L177.1,624.2 L181.6,621.0 L176.1,621.0Z" fill="#1f77b4" stroke="#1f77b4" stroke-width="4.00" stroke-linejoin="round"/>
<text x="209.3" y="628.6" font-size="19.30" text-anchor="start" fill="#000" font-family="DejaVu Sans, Liberation Sans, sans-serif">UK00BF</text>
<path d="M165.70,642.70 L183.10,660.10 M165.70,660.10 L183.10,642.70" stroke="#ff7f0e" stroke-width="5.5" fill="none"/>
<text x="209.3" y="657.0" font-size="19.30" text-anchor="start" fill="#000" font-family="DejaVu Sans, Liberation Sans, sans-serif">UK00C1</text>
<path d="M156.70,679.80 L192.10,679.80 M174.40,662.10 L174.40,697.50" stroke="#2ca02c" stroke-width="5.5" fill="none"/>
<text x="209.3" y="685.4" font-size="19.30" text-anchor="start" fill="#000" font-family="DejaVu Sans, Liberation Sans, sans-serif">UK0031</text>
<circle cx="174.40" cy="708.21" r="8.1" fill="#d62728"/>
<text x="209.3" y="713.8" font-size="19.30" text-anchor="start" fill="#000" font-family="DejaVu Sans, Liberation Sans, sans-serif">UK003D</text>
<rect x="166.10" y="728.32" width="16.6" height="16.6" rx="1.3" fill="#9467bd"/>
<text x="209.3" y="742.2" font-size="19.30" text-anchor="start" fill="#000" font-family="DejaVu Sans, Liberation Sans, sans-serif">UK008V</text>
<path d="M174.4,755.6 L180.2,765.0 L174.4,774.4 L168.6,765.0Z" fill="#8c564b" stroke="#8c564b" stroke-width="2.50" stroke-linejoin="round"/>
<text x="209.3" y="770.6" font-size="19.30" text-anchor="start" fill="#000" font-family="DejaVu Sans, Liberation Sans, sans-serif">UK000F</text>
<path d="M174.4,800.2 L181.2,786.6 L167.6,786.6Z" fill="#e377c2" stroke="#e377c2" stroke-width="2.50" stroke-linejoin="round"/>
<text x="209.3" y="799.0" font-size="19.30" text-anchor="start" fill="#000" font-family="DejaVu Sans, Liberation Sans, sans-serif">UK00A5</text>
<path d="M174.4,814.6 L172.7,819.8 L167.2,819.8 L171.7,823.0 L170.0,828.2 L174.4,825.0 L178.8,828.2 L177.1,823.0 L181.6,819.8 L176.1,819.8Z" fill="#7f7f7f" stroke="#7f7f7f" stroke-width="4.00" stroke-linejoin="round"/>
<text x="209.3" y="827.4" font-size="19.30" text-anchor="start" fill="#000" font-family="DejaVu Sans, Liberation Sans, sans-serif">UK00B2</text>
<path d="M160.30,850.25 L188.30,850.25 M174.30,836.25 L174.30,864.25" stroke="#404040" stroke-width="5.6" fill="none"/>
<text x="208.5" y="855.8" font-size="19.45" text-anchor="start" fill="#000" font-family="DejaVu Sans, Liberation Sans, sans-serif">Lowest height</text>
<rect x="136.4" y="27.0" width="1036.2" height="1036.0" fill="none" stroke="#000" stroke-width="3.8"/>
<text x="125.7" y="83.5" font-size="38.10" text-anchor="end" fill="#000" font-family="DejaVu Sans, Liberation Sans, sans-serif">54°N</text>
<text x="125.7" y="326.7" font-size="38.10" text-anchor="end" fill="#000" font-family="DejaVu Sans, Liberation Sans, sans-serif">53°N</text>
<text x="125.7" y="567.7" font-size="38.10" text-anchor="end" fill="#000" font-family="DejaVu Sans, Liberation Sans, sans-serif">52°N</text>
<text x="125.7" y="808.8" font-size="38.10" text-anchor="end" fill="#000" font-family="DejaVu Sans, Liberation Sans, sans-serif">51°N</text>
<text x="125.7" y="1051.3" font-size="38.10" text-anchor="end" fill="#000" font-family="DejaVu Sans, Liberation Sans, sans-serif">50°N</text>
<text x="261.5" y="1103.1" font-size="38.10" text-anchor="middle" fill="#000" font-family="DejaVu Sans, Liberation Sans, sans-serif">4°W</text>
<text x="573.0" y="1103.1" font-size="38.10" text-anchor="middle" fill="#000" font-family="DejaVu Sans, Liberation Sans, sans-serif">2°W</text>
<text x="884.0" y="1103.1" font-size="38.10" text-anchor="middle" fill="#000" font-family="DejaVu Sans, Liberation Sans, sans-serif">0°</text>
</svg>
</body></html>
